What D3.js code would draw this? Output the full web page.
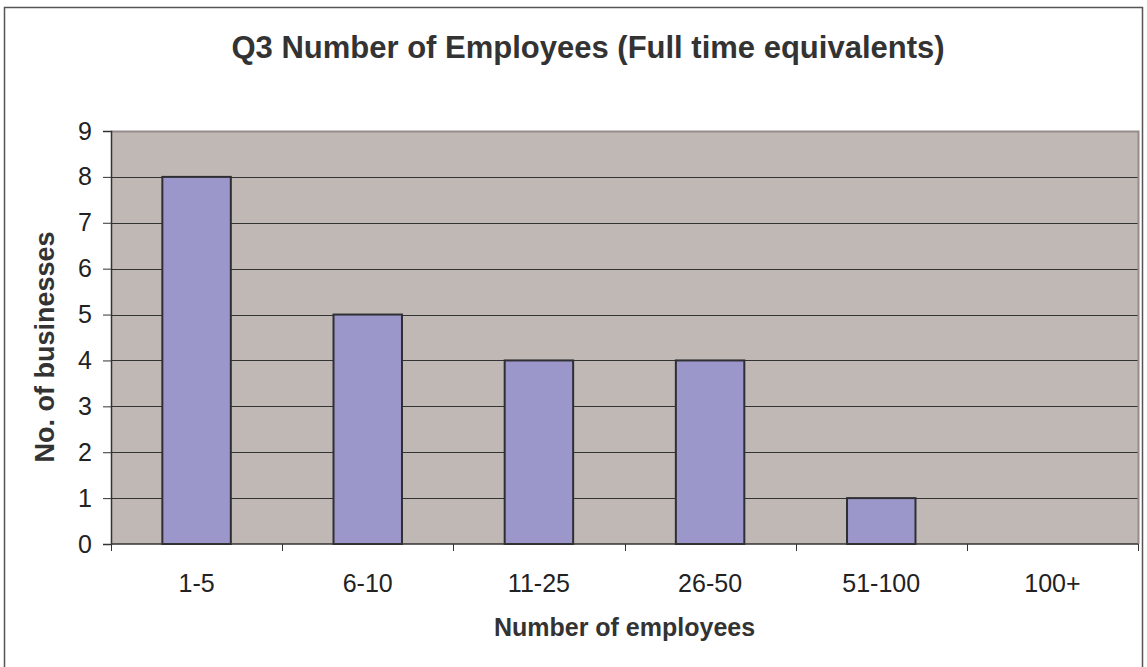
<!DOCTYPE html>
<html>
<head>
<meta charset="utf-8">
<script src="https://cdn.jsdelivr.net/npm/d3@7"></script>
<style>
  body { margin: 0; background: #fff; }
  svg { display: block; font-family: "Liberation Sans", Arial, sans-serif; overflow: visible; }
</style>
</head>
<body>
<svg id="chart" width="1147" height="667"></svg>
<script>
// data
const categories = ['1-5', '6-10', '11-25', '26-50', '51-100', '100+'];
const businesses = [8, 5, 4, 4, 1, 0];
const yTicks = [0, 1, 2, 3, 4, 5, 6, 7, 8, 9];

const svg = d3.select('#chart');
const width = +svg.attr('width');
const height = +svg.attr('height');

const margin = { top: 131, right: 9, bottom: 123, left: 111 };
const innerWidth = width - margin.left - margin.right;
const innerHeight = height - margin.top - margin.bottom;

// outer chart frame, the bottom edge is outside the picture
svg.append('path')
    .attr('d', 'M4.5,' + height + 'V7.5H1142.5V' + height)
    .attr('fill', 'none')
    .attr('stroke', '#555')
    .attr('stroke-width', 1.5);

const xScale = d3.scaleBand()
    .domain(categories)
    .range([0, innerWidth])
    .paddingInner(0.6)
    .paddingOuter(0.3);

const yScale = d3.scaleLinear()
    .domain([0, 9])
    .range([innerHeight, 0]);

const g = svg.append('g')
    .attr('transform', 'translate(' + margin.left + ',' + margin.top + ')');

// plot background
g.append('rect')
    .attr('width', innerWidth)
    .attr('height', innerHeight)
    .attr('fill', '#c0b8b5');

// gridlines
g.selectAll('.grid')
    .data(yTicks.filter(d => d > 0 && d < 9))
    .enter()
    .append('line')
    .attr('x1', 0)
    .attr('x2', innerWidth)
    .attr('y1', d => Math.round(yScale(d)) + 0.5)
    .attr('y2', d => Math.round(yScale(d)) + 0.5)
    .attr('stroke', '#333')
    .attr('stroke-width', 1);

// top and right border of plot area
g.append('path')
    .attr('d', 'M0,0.5H' + (innerWidth + 0.5) + 'V' + innerHeight)
    .attr('fill', 'none')
    .attr('stroke', '#968c8b')
    .attr('stroke-width', 2);

// bars
g.selectAll('.bar')
    .data(businesses)
    .enter()
    .append('rect')
    .attr('class', 'bar')
    .attr('x', (d, i) => xScale(categories[i]))
    .attr('width', xScale.bandwidth())
    .attr('y', d => yScale(d))
    .attr('height', d => innerHeight - yScale(d))
    .attr('fill', '#9b97ca')
    .attr('stroke', '#2e2e33')
    .attr('stroke-width', 2)
    .style('display', d => d > 0 ? null : 'none');

// Y axis
const yAxis = g.append('g')
    .call(d3.axisLeft(yScale).tickValues(yTicks).tickSize(8).tickPadding(11))
    .attr('font-size', 25)
    .attr('font-family', '"Liberation Sans", Arial, sans-serif');
yAxis.select('.domain').attr('stroke', '#333').attr('stroke-width', 1.5);
yAxis.selectAll('.tick line').attr('stroke', '#333');
yAxis.selectAll('text').attr('fill', '#222');

// X axis, ticks sit between categories
const step = xScale.step();
const xAxis = g.append('g')
    .attr('transform', 'translate(0,' + innerHeight + ')')
    .attr('font-size', 25);
xAxis.append('line')
    .attr('x1', 0)
    .attr('x2', innerWidth)
    .attr('stroke', '#333')
    .attr('stroke-width', 1.5);
xAxis.selectAll('.xtick')
    .data(d3.range(categories.length + 1))
    .enter()
    .append('line')
    .attr('x1', i => Math.round(i * step) + 0.5)
    .attr('x2', i => Math.round(i * step) + 0.5)
    .attr('y1', 0)
    .attr('y2', 7)
    .attr('stroke', '#333');
xAxis.selectAll('.xlabel')
    .data(categories)
    .enter()
    .append('text')
    .attr('x', d => xScale(d) + xScale.bandwidth() / 2)
    .attr('y', 48)
    .attr('text-anchor', 'middle')
    .attr('fill', '#222')
    .text(d => d);

// titles
svg.append('text')
    .attr('x', 588)
    .attr('y', 58)
    .attr('text-anchor', 'middle')
    .attr('font-size', 31)
    .attr('font-weight', 'bold')
    .attr('fill', '#333')
    .text('Q3 Number of Employees (Full time equivalents)');

svg.append('text')
    .attr('x', margin.left + innerWidth / 2)
    .attr('y', 636)
    .attr('text-anchor', 'middle')
    .attr('font-size', 25)
    .attr('font-weight', 'bold')
    .attr('fill', '#333')
    .text('Number of employees');

svg.append('text')
    .attr('transform', 'translate(54,347) rotate(-90)')
    .attr('text-anchor', 'middle')
    .attr('font-size', 27)
    .attr('font-weight', 'bold')
    .attr('fill', '#333')
    .text('No. of businesses');
</script>
</body>
</html>
